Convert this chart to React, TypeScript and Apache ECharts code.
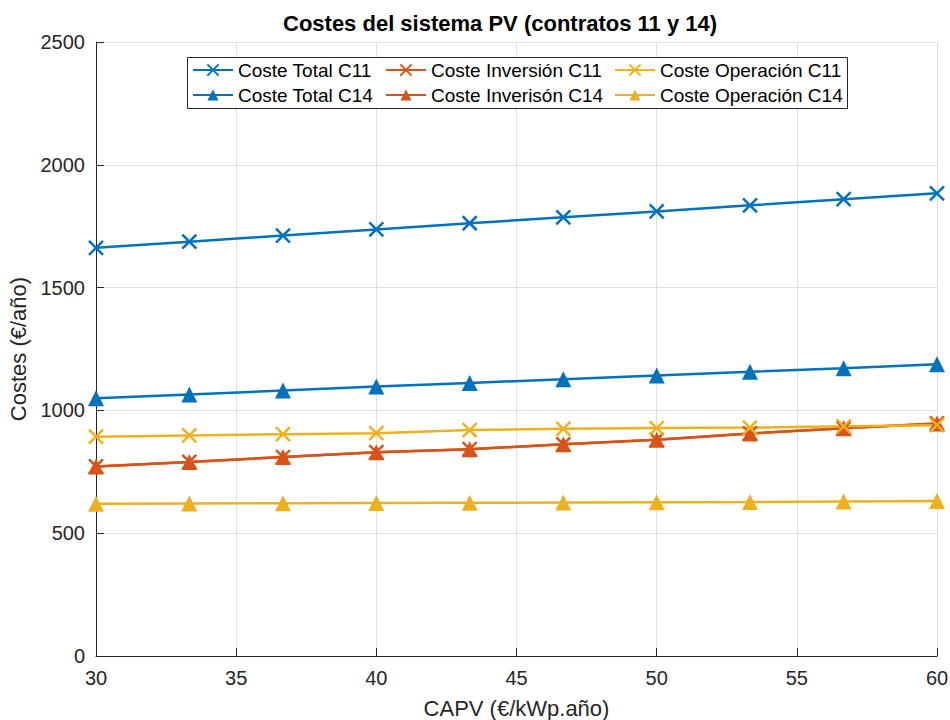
import React, { useEffect, useRef } from "react";
import * as echarts from "echarts";

const xValues = [30, 33.33, 36.67, 40, 43.33, 46.67, 50, 53.33, 56.67, 60];
const totalC11 = [1662, 1687, 1712, 1737, 1762, 1786, 1810, 1835, 1860, 1884];
const totalC14 = [1049, 1065, 1081, 1097, 1112, 1127, 1142, 1157, 1172, 1188];
const inversionC11 = [772, 790, 810, 830, 842, 862, 880, 906, 927, 947];
const inversionC14 = [772, 790, 810, 830, 842, 862, 880, 906, 927, 947];
const operacionC11 = [893, 898, 903, 907, 920, 925, 928, 930, 935, 940];
const operacionC14 = [620, 621, 622, 623, 624, 625, 626, 627, 629, 631];

const seriesNames = [
  "Coste Total C11",
  "Coste Total C14",
  "Coste Inversión C11",
  "Coste Inverisón C14",
  "Coste Operación C11",
  "Coste Operación C14",
];

const BLUE = "#0072BD";
const ORANGE = "#D95319";
const YELLOW = "#EDB120";
const FONT = "'Liberation Sans', Arial, Helvetica, sans-serif";
const XSYM = "path://M0,0L10,10M10,0L0,10";

function makeSeries(name: string, values: number[], color: string, marker: "x" | "tri") {
  return {
    name,
    type: "line",
    data: xValues.map((x, i) => [x, values[i]]),
    symbol: marker === "x" ? XSYM : "triangle",
    symbolSize: marker === "x" ? 14 : 16,
    showAllSymbol: true,
    lineStyle: { color, width: 2.5 },
    itemStyle: marker === "x"
      ? { color: "rgba(0,0,0,0)", borderColor: color, borderWidth: 2.5 }
      : { color, borderColor: color, borderWidth: 0 },
    emphasis: { disabled: true },
  };
}

export default function App() {
  const ref = useRef<HTMLDivElement>(null);
  useEffect(() => {
    if (!ref.current) return;
    const chart = echarts.init(ref.current, undefined, { renderer: "svg" });
    const legendCommon = {
      orient: "vertical",
      itemWidth: 40,
      itemHeight: 14,
      itemGap: 5,
      padding: 0,
      top: 60,
      selectedMode: false,
      textStyle: { fontSize: 19, color: "#000", fontFamily: FONT, lineHeight: 20 },
    };
    chart.setOption({
      animation: false,
      backgroundColor: "#ffffff",
      title: {
        text: "Costes del sistema PV (contratos 11 y 14)",
        left: 283,
        top: 12,
        padding: 0,
        textStyle: { fontSize: 22, fontWeight: "bold", color: "#000", fontFamily: FONT },
      },
      legend: [
        { ...legendCommon, left: 192, data: [seriesNames[0], seriesNames[1]] },
        { ...legendCommon, left: 385, data: [seriesNames[2], seriesNames[3]] },
        { ...legendCommon, left: 614, data: [seriesNames[4], seriesNames[5]] },
      ],
      graphic: [
        {
          type: "rect",
          z: 3,
          shape: { x: 187.5, y: 57.5, width: 660, height: 51 },
          style: { fill: "#ffffff", stroke: "#262626", lineWidth: 1 },
          silent: true,
        },
      ],
      grid: { left: 96, right: 13, top: 42, bottom: 64, containLabel: false, outerBoundsMode: "none" },
      xAxis: {
        type: "value",
        min: 30,
        max: 60,
        interval: 5,
        name: "CAPV (€/kWp.año)",
        nameLocation: "middle",
        nameGap: 41,
        nameTextStyle: { fontSize: 22, color: "#262626", fontFamily: FONT },
        axisLine: { show: true, lineStyle: { color: "#262626", width: 1 } },
        axisTick: { show: true, inside: true, length: 8, lineStyle: { color: "#262626" } },
        axisLabel: { fontSize: 20, color: "#262626", fontFamily: FONT, margin: 12 },
        splitLine: { show: true, lineStyle: { color: "#dfdfdf", width: 1 } },
      },
      yAxis: {
        type: "value",
        min: 0,
        max: 2500,
        interval: 500,
        name: "Costes (€/año)",
        nameLocation: "middle",
        nameGap: 62,
        nameTextStyle: { fontSize: 22, color: "#262626", fontFamily: FONT },
        axisLine: { show: true, lineStyle: { color: "#262626", width: 1 } },
        axisTick: { show: true, inside: true, length: 8, lineStyle: { color: "#262626" } },
        axisLabel: {
          fontSize: 20,
          color: "#262626",
          fontFamily: FONT,
          margin: 11,
          formatter: (v: number) => String(v),
        },
        splitLine: { show: true, lineStyle: { color: "#dfdfdf", width: 1 } },
      },
      series: [
        makeSeries(seriesNames[0], totalC11, BLUE, "x"),
        makeSeries(seriesNames[1], totalC14, BLUE, "tri"),
        makeSeries(seriesNames[2], inversionC11, ORANGE, "x"),
        makeSeries(seriesNames[3], inversionC14, ORANGE, "tri"),
        makeSeries(seriesNames[4], operacionC11, YELLOW, "x"),
        makeSeries(seriesNames[5], operacionC14, YELLOW, "tri"),
      ],
    });
    return () => chart.dispose();
  }, []);
  return (
    <div
      ref={ref}
      style={{ position: "absolute", left: 0, top: 0, width: 950, height: 720, background: "#fff" }}
    />
  );
}
